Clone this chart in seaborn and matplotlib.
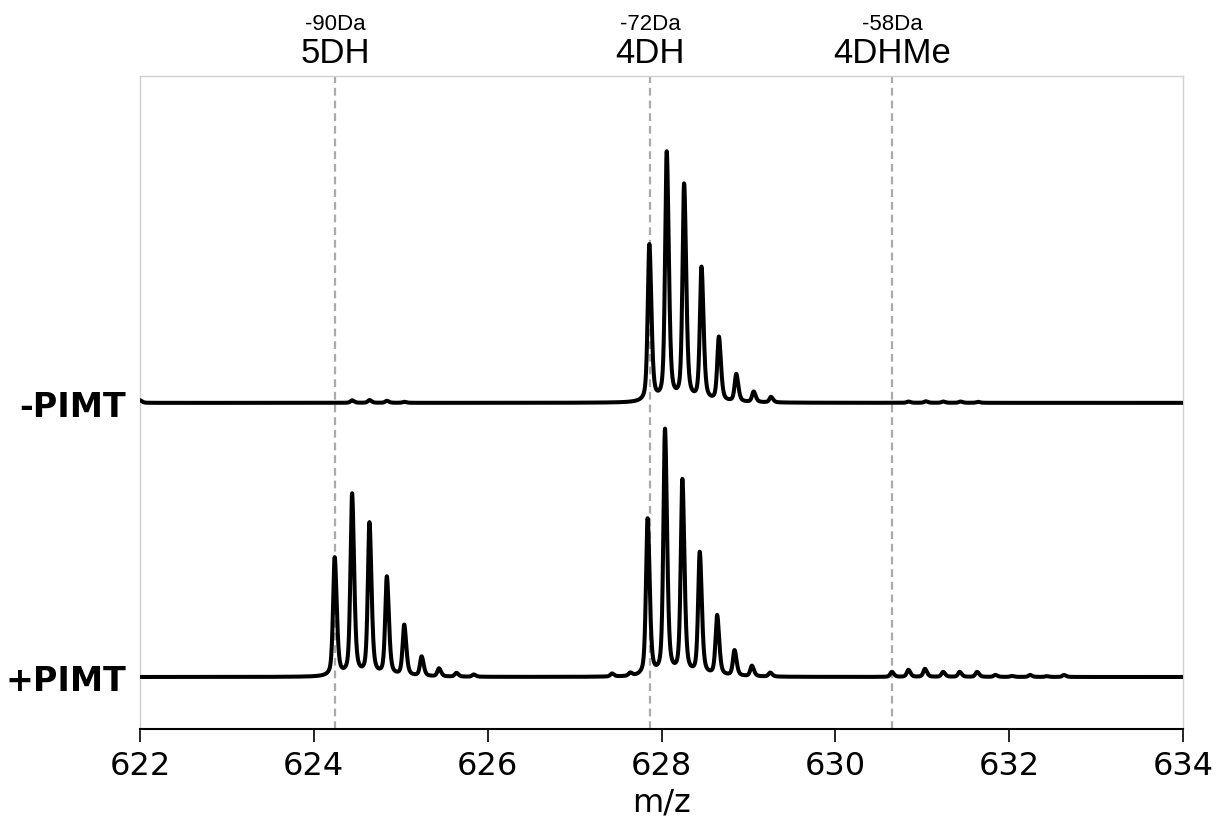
import numpy as np
import pandas as pd
import matplotlib
matplotlib.use("Agg")
import matplotlib.pyplot as plt
import seaborn as sns

# ---------------- data ----------------
# relative intensity (% of the -PIMT 4DH base peak)
minus_mz = [622.00, 624.44, 624.64, 624.84, 625.04,
            627.86, 628.06, 628.26, 628.46, 628.66, 628.86, 629.06, 629.26,
            630.84, 631.04, 631.24, 631.44, 631.64]
minus_int = [1.0, 1.0, 1.1, 0.8, 0.4,
             62.5, 99.0, 86.0, 53.0, 25.5, 11.0, 4.2, 2.2,
             0.5, 0.6, 0.5, 0.5, 0.4]

plus_mz = [624.24, 624.44, 624.64, 624.84, 625.04, 625.24, 625.44, 625.64, 625.84,
           627.43, 627.64,
           627.84, 628.04, 628.24, 628.44, 628.64, 628.84, 629.04, 629.25,
           630.65, 630.84, 631.03, 631.24, 631.43, 631.63, 631.84, 632.03,
           632.24, 632.43, 632.63]
plus_int = [47.2, 72.3, 60.6, 39.2, 20.2, 7.8, 3.2, 1.5, 0.9,
            1.2, 1.2,
            62.5, 97.8, 77.5, 48.7, 23.9, 10.2, 4.2, 1.6,
            2.0, 2.8, 3.2, 2.0, 2.0, 2.0, 0.8, 0.4,
            0.8, 0.3, 0.8]

trace_labels = ["-PIMT", "+PIMT"]
trace_offsets = [109.2, 0.0]

marker_mz = [624.243, 627.868, 630.652]
marker_names = ["5DH", "4DH", "4DHMe"]
marker_shifts = ["-90Da", "-72Da", "-58Da"]

x_ticks = [622, 624, 626, 628, 630, 632, 634]

# ---------------- peak profile (asymmetric pseudo-Voigt) ----------------
wL, wR, eta = 0.022, 0.028, 0.5
grid = np.linspace(622, 634, 8001)


def spectrum(centers, heights):
    y = np.zeros_like(grid)
    for c, h in zip(centers, heights):
        d = grid - c
        w = np.where(d < 0, wL, wR)
        lor = w**2 / (w**2 + d**2)
        gau = np.exp(-np.log(2) * (d / w) ** 2)
        y += h * (eta * lor + (1 - eta) * gau)
    return y


df_minus = pd.DataFrame({"mz": grid, "signal": spectrum(minus_mz, minus_int) + trace_offsets[0]})
df_plus = pd.DataFrame({"mz": grid, "signal": spectrum(plus_mz, plus_int) + trace_offsets[1]})

# ---------------- plot ----------------
sns.set_style("white")
plt.rcParams["font.family"] = ["DejaVu Sans"]
plt.rcParams["font.sans-serif"] = ["DejaVu Sans"]
for key in ["text.color", "axes.labelcolor", "xtick.color", "ytick.color"]:
    plt.rcParams[key] = "black"

fig, ax = plt.subplots(figsize=(12.16, 8.2), dpi=100)
fig.subplots_adjust(left=0.1151, right=0.9729, top=0.9061, bottom=0.1098)

for m in marker_mz:
    ax.axvline(m, color="#aaaaaa", lw=1.6, ls=(0, (3.5, 2.2)), zorder=1)

sns.lineplot(data=df_minus, x="mz", y="signal", color="black", lw=2.9, ax=ax,
             estimator=None, sort=False, zorder=3)
sns.lineplot(data=df_plus, x="mz", y="signal", color="black", lw=2.9, ax=ax,
             estimator=None, sort=False, zorder=3)

ax.set_xlim(622, 634)
ax.set_ylim(-20.7, 239.4)

ax.set_xticks(x_ticks)
ax.set_xticklabels([str(t) for t in x_ticks], fontsize=23, fontfamily="DejaVu Sans")
ax.tick_params(axis="x", direction="out", length=9, width=1.2, color="black", pad=6, bottom=True)
ax.set_xlabel("m/z", fontsize=23, labelpad=4, fontfamily="DejaVu Sans")

ax.set_yticks(trace_offsets)
ax.set_yticklabels(trace_labels, fontsize=24, fontweight="bold", fontfamily="DejaVu Sans")
ax.tick_params(axis="y", length=0, pad=10)
ax.set_ylabel("")

for side in ["left", "right", "top"]:
    ax.spines[side].set_color("#d0d0d0")
    ax.spines[side].set_linewidth(1.0)
ax.spines["bottom"].set_color("black")
ax.spines["bottom"].set_linewidth(1.5)

trans = ax.get_xaxis_transform()
for m, name, shift in zip(marker_mz, marker_names, marker_shifts):
    ax.text(m, 1.021, name, transform=trans, ha="center", va="baseline",
            fontsize=25, family=["Liberation Sans", "DejaVu Sans"])
    ax.text(m, 1.072, shift, transform=trans, ha="center", va="baseline",
            fontsize=16, family=["Liberation Sans", "DejaVu Sans"])

fig.savefig("out.png", dpi=100)
